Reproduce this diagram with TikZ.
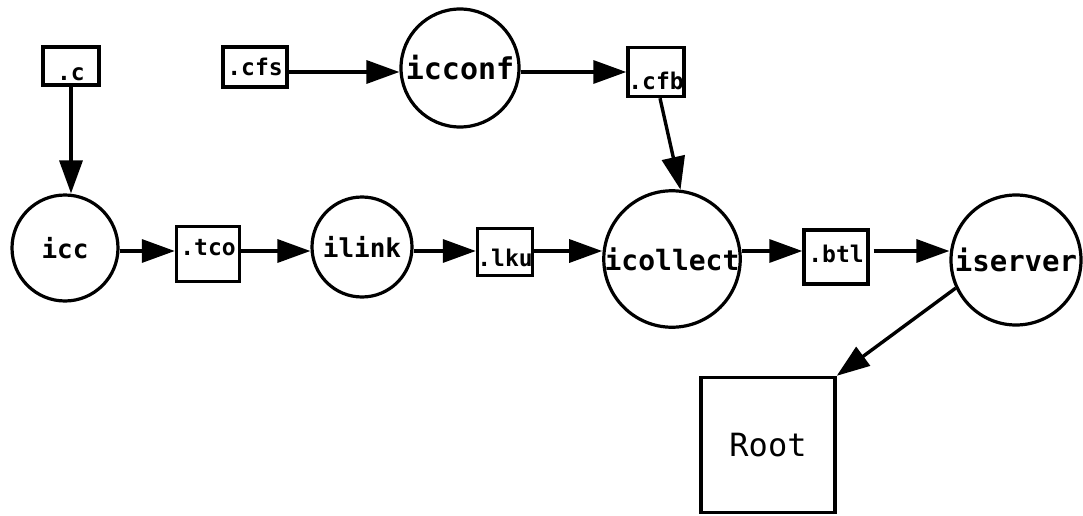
\documentclass[tikz,border=0pt]{standalone}
\usepackage{fontspec}
\newfontfamily\plotter{DejaVu Sans Mono Bold}
\newfontfamily\plotterlight{DejaVu Sans Mono}
\usetikzlibrary{arrows.meta}

\begin{document}
\begin{tikzpicture}[x=1pt,y=-1pt,
  flow/.style={line width=3.4pt,-{Triangle[length=33pt,width=23pt]}},
  proc/.style={circle,draw,line width=3.2pt,minimum size=#1,inner sep=0pt},
  pfont/.style={font=\plotter\fontsize{#1}{#1}\selectfont},
  filebox/.style={draw,line width=3.4pt,inner sep=0pt},
  tag/.style={font=\plotter\fontsize{23}{23}\selectfont,inner sep=0pt},
]
\useasboundingbox (0,0) rectangle (1083,516);

% reference rows for the horizontal connectors
\coordinate (toprow) at (0,72);
\coordinate (mainrow) at (0,251);

% source and intermediate files
\node[filebox,minimum width=56,minimum height=38,
      label={[tag,yshift=-8pt]center:.c}] (c) at (71,66) {};
\node[filebox,minimum width=64,minimum height=40,
      label={[tag]center:.cfs}] (cfs) at (255,67) {};
\node[filebox,minimum width=56,minimum height=49,
      label={[tag,yshift=-9pt]center:.cfb}] (cfb) at (656,72) {};
\node[filebox,minimum width=63,minimum height=55,
      label={[tag,yshift=6pt]center:.tco}] (tco) at (208,254) {};
\node[filebox,minimum width=55,minimum height=47,
      label={[tag,yshift=-6pt]center:.lku}] (lku) at (505,252) {};
\node[filebox,minimum width=64,minimum height=54,
      label={[tag,yshift=3pt]center:.btl}] (btl) at (836,257) {};
\node[filebox,minimum width=134,minimum height=135,
      font=\plotterlight\fontsize{32}{32}\selectfont] (root) at (768,445) {Root};

% processing programs
\node[proc=118,pfont=30] (icconf) at (460,68) {icconf};
\node[proc=106,pfont=26] (icc) at (65,248) {icc};
\node[proc=100,pfont=26] (ilink) at (362,247) {ilink};
\node[proc=134,pfont=28] (icollect) at (672,259) {icollect};
\node[proc=130,pfont=29] (iserver) at (1016,260) {iserver};

% data flow
\draw[flow] (c.south) -- (c.south |- icc.north);
\draw[flow] (cfs.east |- toprow) -- (icconf.west |- toprow);
\draw[flow] (icconf.east |- toprow) -- (cfb.west |- toprow);
\draw[flow] ([xshift=4pt]cfb.south) -- (icollect.83);
\draw[flow] (icc.east |- mainrow) -- (tco.west |- mainrow);
\draw[flow] (tco.east |- mainrow) -- (ilink.west |- mainrow);
\draw[flow] (ilink.east |- mainrow) -- (lku.west |- mainrow);
\draw[flow] (lku.east |- mainrow) -- (icollect.west |- mainrow);
\draw[flow] (icollect.east |- mainrow) -- (btl.west |- mainrow);
\draw[flow,shorten <=4pt] (btl.east |- mainrow) -- (iserver.west |- mainrow);
\draw[flow] (iserver.205) -- (root.north east);
\end{tikzpicture}
\end{document}
